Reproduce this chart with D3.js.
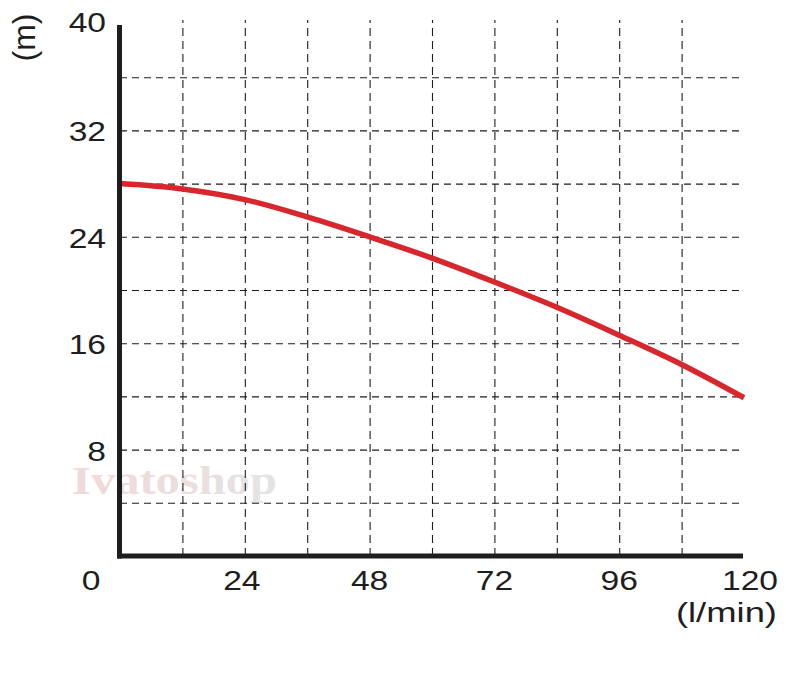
<!DOCTYPE html>
<html>
<head>
<meta charset="utf-8">
<script src="https://cdn.jsdelivr.net/npm/d3@7"></script>
<style>
  html, body { margin: 0; padding: 0; background: #ffffff; }
  svg { display: block; }
</style>
</head>
<body>
<svg id="chart" width="790" height="676"></svg>
<script>
// ---- data ----
const flow = [0, 12, 24, 36, 48, 60, 72, 84, 96, 108, 120];          // l/min
const head = [28.0, 27.6, 26.8, 25.5, 24.0, 22.4, 20.6, 18.7, 16.6, 14.4, 11.9]; // m
const xTickLabels = [24, 48, 72, 96, 120];
const yTickLabels = [8, 16, 24, 32, 40];
const xGrid = [12, 24, 36, 48, 60, 72, 84, 96, 108];
const yGrid = [4, 8, 12, 16, 20, 24, 28, 32, 36];
const xUnit = "(l/min)";
const yUnit = "(m)";
const watermark = "Ivatoshop";

// ---- layout ----
const svg = d3.select("#chart");
const x = d3.scaleLinear().domain([0, 120]).range([120, 744]);
const y = d3.scaleLinear().domain([0, 40]).range([556, 24]);
const ink = "#1e1e1e";
const font = "'Liberation Sans', Arial, sans-serif";

// watermark
const defs = svg.append("defs");
const grad = defs.append("linearGradient").attr("id", "wm").attr("x1", "0").attr("x2", "1");
grad.append("stop").attr("offset", "0").attr("stop-color", "#f1d9da");
grad.append("stop").attr("offset", "0.35").attr("stop-color", "#eedcdc");
grad.append("stop").attr("offset", "1").attr("stop-color", "#e4e4e4");
svg.append("text")
  .attr("x", 72).attr("y", 494)
  .attr("font-family", "'Liberation Serif', 'DejaVu Serif', serif")
  .attr("font-weight", "bold")
  .attr("font-size", 40)
  .attr("textLength", 205)
  .attr("lengthAdjust", "spacingAndGlyphs")
  .attr("fill", "url(#wm)")
  .text(watermark);

// grid (via axes)
const gx = svg.append("g")
  .attr("transform", `translate(0,${y(0)})`)
  .call(d3.axisBottom(x).tickValues(xGrid).tickSize(-(y(0) - y(40) + 4)).tickFormat(""));
gx.select(".domain").remove();
gx.selectAll(".tick line")
  .attr("stroke", ink).attr("stroke-width", 1.1)
  .attr("stroke-dasharray", "8,5");

const gy = svg.append("g")
  .attr("transform", `translate(${x(0)},0)`)
  .call(d3.axisLeft(y).tickValues(yGrid).tickSize(-(x(120) - x(0))).tickFormat(""));
gy.select(".domain").remove();
gy.selectAll(".tick line")
  .attr("stroke", ink).attr("stroke-width", 1.1)
  .attr("stroke-dasharray", "7,5");

// curve
const line = d3.line()
  .x((d, i) => x(flow[i]))
  .y(d => y(d))
  .curve(d3.curveCatmullRom);
svg.append("path")
  .datum(head)
  .attr("d", line)
  .attr("fill", "none")
  .attr("stroke", "#d8262d")
  .attr("stroke-width", 5.5);

// axis lines
svg.append("line")
  .attr("x1", x(0) - 0.5).attr("x2", x(0) - 0.5)
  .attr("y1", y(40) + 1).attr("y2", y(0) + 2.5)
  .attr("stroke", ink).attr("stroke-width", 5);
svg.append("line")
  .attr("x1", x(0) - 3).attr("x2", x(120) - 1)
  .attr("y1", y(0)).attr("y2", y(0))
  .attr("stroke", ink).attr("stroke-width", 5);

// tick labels (stretched horizontally like the reference)
const sx = 1.2;
function label(px, py, txt, anchor, size, scaleX) {
  svg.append("g")
    .attr("transform", `translate(${px},${py}) scale(${scaleX},1)`)
    .append("text")
    .attr("text-anchor", anchor)
    .attr("font-family", font)
    .attr("font-size", size)
    .attr("fill", ink)
    .text(txt);
}
yTickLabels.forEach(v => {
  const off = v === 40 ? 8 : 11;
  label(106, y(v) + off, v, "end", 28, sx);
});
xTickLabels.forEach(v => {
  const off = v === 120 ? 6 : (v === 24 ? -3 : 0);
  label(x(v) + off, 590, v, "middle", 28, sx);
});
label(91, 590, 0, "middle", 28, sx);

// unit labels
label(777, 622, xUnit, "end", 28, 1.3);
svg.append("text")
  .attr("transform", "translate(35,37.5) rotate(-90)")
  .attr("text-anchor", "middle")
  .attr("font-family", font)
  .attr("font-size", 32)
  .attr("fill", ink)
  .text(yUnit);
</script>
</body>
</html>
